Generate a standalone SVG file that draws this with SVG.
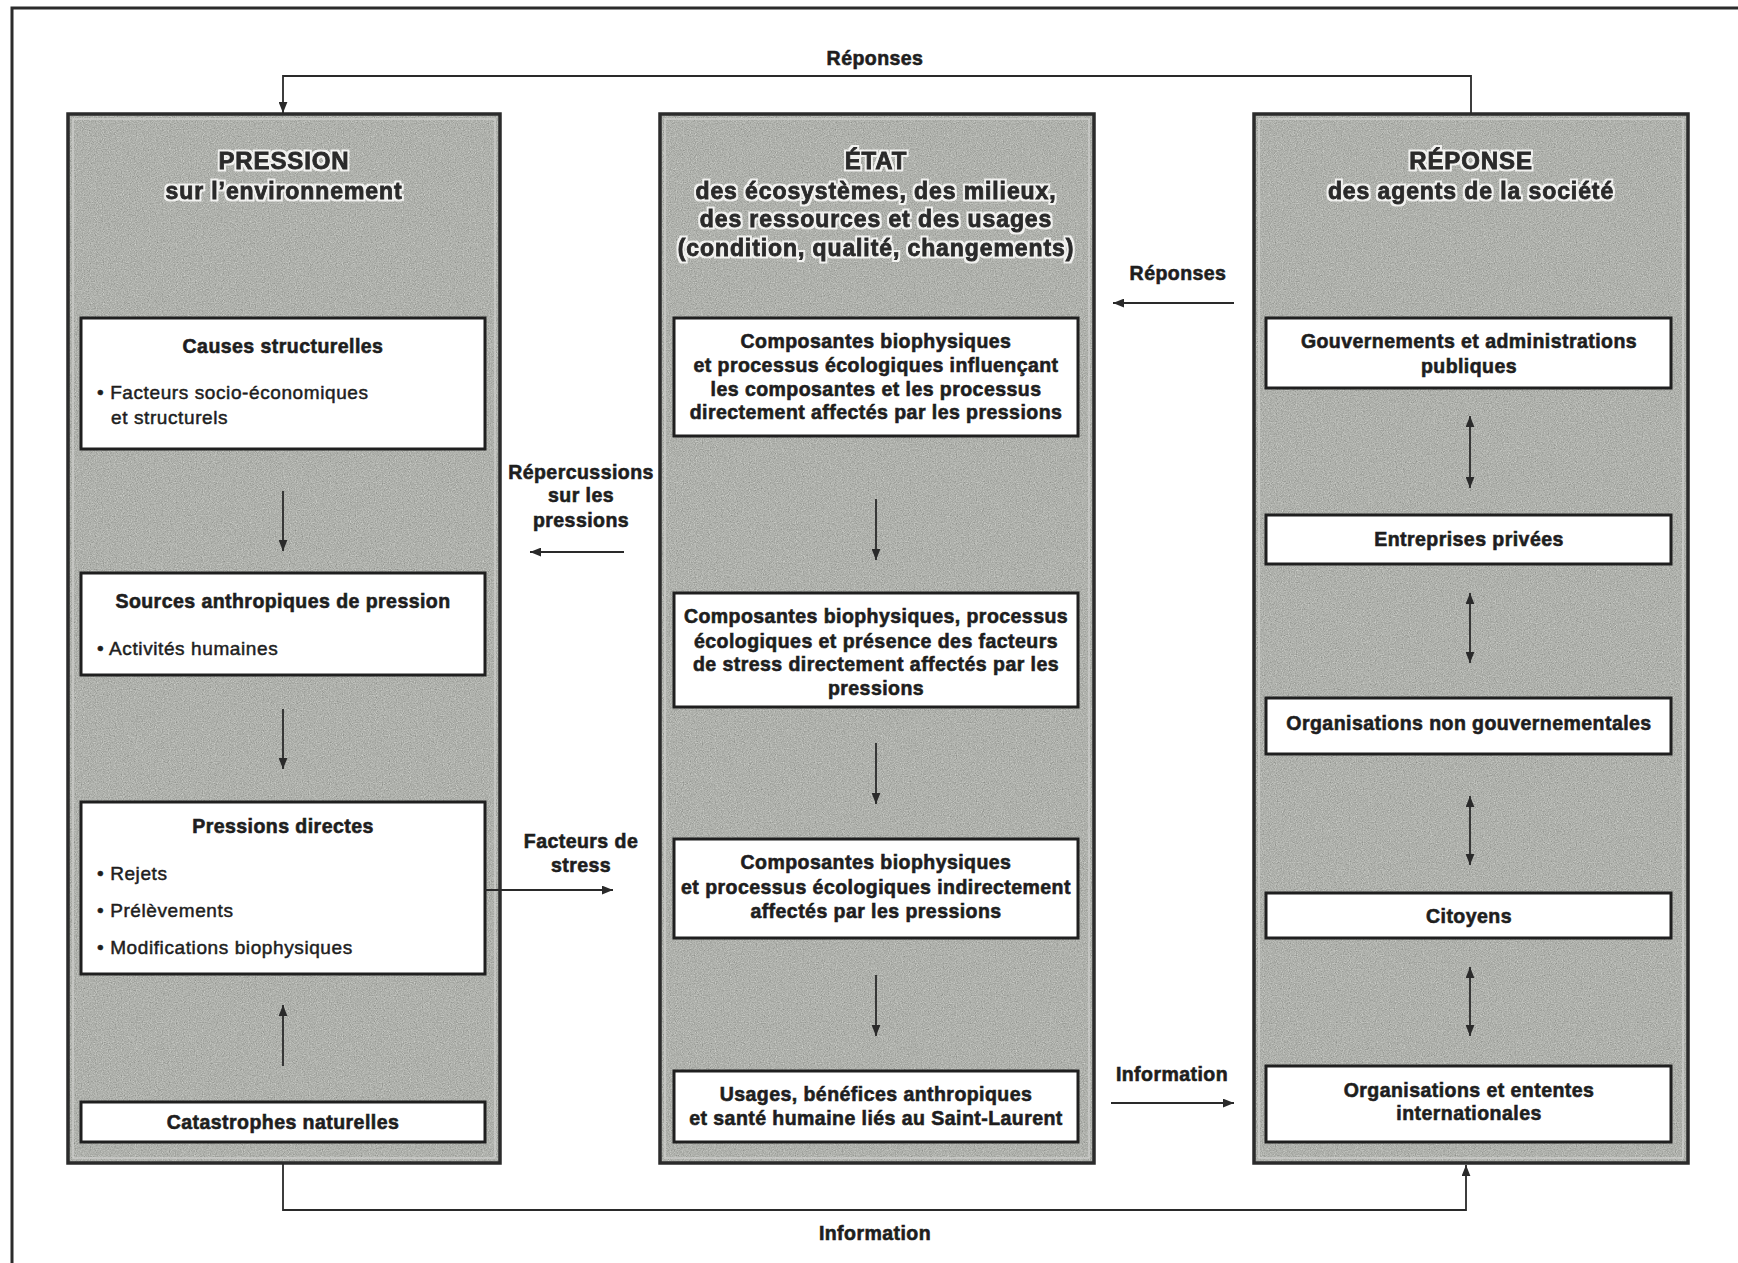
<svg xmlns="http://www.w3.org/2000/svg" width="1738" height="1263" viewBox="0 0 1738 1263">
<defs>
<style>
.col{fill:#a9aba6;}
.colb{fill:none;stroke:#2b2b2b;stroke-width:3.5;}
.coli{fill:none;stroke:#d2d3d0;stroke-width:1.2;}
.box{fill:#ffffff;stroke:#1f1f1f;stroke-width:3;}
.t{font-family:"Liberation Sans",Arial,sans-serif;font-weight:bold;font-size:19.5px;letter-spacing:0.45px;fill:#1e1e1e;stroke:#1e1e1e;stroke-width:0.6px;text-anchor:middle;}
.b{font-family:"Liberation Sans",Arial,sans-serif;font-weight:normal;font-size:19px;letter-spacing:0.6px;fill:#1e1e1e;stroke:#1e1e1e;stroke-width:0.5px;}
.h{font-family:"Liberation Sans",Arial,sans-serif;font-weight:bold;font-size:23px;letter-spacing:0.9px;fill:#2a2a2a;stroke:#2a2a2a;stroke-width:0.8px;text-anchor:middle;filter:url(#halo);}
.hb{font-size:24px;}
.ar{fill:none;stroke:#2a2a2a;stroke-width:1.8;marker-end:url(#ah);}
.dar{fill:none;stroke:#2a2a2a;stroke-width:1.8;marker-end:url(#ah);marker-start:url(#ahs);}
</style>
<marker id="ah" viewBox="0 0 10 8" refX="10" refY="4" markerWidth="11" markerHeight="9" markerUnits="userSpaceOnUse" orient="auto">
<path d="M0,0 L10,4 L0,8 Z" fill="#2a2a2a"/>
</marker>
<marker id="ahs" viewBox="0 0 10 8" refX="0" refY="4" markerWidth="11" markerHeight="9" markerUnits="userSpaceOnUse" orient="auto">
<path d="M10,0 L0,4 L10,8 Z" fill="#2a2a2a"/>
</marker>
<filter id="grain" x="0" y="0" width="100%" height="100%" color-interpolation-filters="sRGB">
<feTurbulence type="fractalNoise" baseFrequency="0.85" numOctaves="2" seed="7" result="n"/>
<feColorMatrix in="n" type="matrix" values="0.33 0.33 0.33 0 0  0.33 0.33 0.33 0 0  0.33 0.33 0.33 0 0  0 0 0 0 1" result="g"/>
<feComposite in="SourceGraphic" in2="g" operator="arithmetic" k1="0" k2="1" k3="0.55" k4="-0.25" result="m"/>
<feComposite in="m" in2="SourceGraphic" operator="in"/>
</filter>
<filter id="halo" x="-5%" y="-30%" width="110%" height="160%" color-interpolation-filters="sRGB">
<feMorphology in="SourceAlpha" operator="dilate" radius="1.6" result="d"/>
<feFlood flood-color="#f2f2f0" result="f"/>
<feComposite in="f" in2="d" operator="in" result="w"/>
<feMerge><feMergeNode in="w"/><feMergeNode in="SourceGraphic"/></feMerge>
</filter>
</defs>

<rect x="0" y="0" width="1738" height="1263" fill="#ffffff"/>
<!-- outer frame (extends beyond right/bottom edges) -->
<rect id="frame" x="12" y="8" width="1760" height="1300" fill="none" stroke="#2b2b2b" stroke-width="3"/>

<!-- Column PRESSION -->
<g id="col-pression">
<rect class="col" x="68" y="114" width="432" height="1049" filter="url(#grain)"/>
<rect class="coli" x="73" y="119" width="422" height="1039"/>
<rect class="colb" x="68" y="114" width="432" height="1049"/>
<text class="h hb" x="284" y="169">PRESSION</text>
<text class="h" x="284" y="199">sur l’environnement</text>
</g>

<!-- Column ÉTAT -->
<g id="col-etat">
<rect class="col" x="660" y="114" width="434" height="1049" filter="url(#grain)"/>
<rect class="coli" x="665" y="119" width="424" height="1039"/>
<rect class="colb" x="660" y="114" width="434" height="1049"/>
<text class="h hb" x="876" y="169">ÉTAT</text>
<text class="h" x="876" y="199">des écosystèmes, des milieux,</text>
<text class="h" x="876" y="227">des ressources et des usages</text>
<text class="h" x="876" y="256">(condition, qualité, changements)</text>
</g>

<!-- Column RÉPONSE -->
<g id="col-reponse">
<rect class="col" x="1254" y="114" width="434" height="1049" filter="url(#grain)"/>
<rect class="coli" x="1259" y="119" width="424" height="1039"/>
<rect class="colb" x="1254" y="114" width="434" height="1049"/>
<text class="h hb" x="1471" y="169">RÉPONSE</text>
<text class="h" x="1471" y="199">des agents de la société</text>
</g>

<!-- Left column nodes -->
<g id="causes">
<rect class="box" x="81" y="318" width="404" height="131"/>
<text class="t" x="283" y="353">Causes structurelles</text>
<text class="b" x="97" y="399">• Facteurs socio-économiques</text>
<text class="b" x="111" y="424">et structurels</text>
</g>
<g id="sources">
<rect class="box" x="81" y="573" width="404" height="102"/>
<text class="t" x="283" y="608">Sources anthropiques de pression</text>
<text class="b" x="97" y="655">• Activités humaines</text>
</g>
<g id="pressions-directes">
<rect class="box" x="81" y="802" width="404" height="172"/>
<text class="t" x="283" y="833">Pressions directes</text>
<text class="b" x="97" y="880">• Rejets</text>
<text class="b" x="97" y="917">• Prélèvements</text>
<text class="b" x="97" y="954">• Modifications biophysiques</text>
</g>
<g id="catastrophes">
<rect class="box" x="81" y="1102" width="404" height="40"/>
<text class="t" x="283" y="1129">Catastrophes naturelles</text>
</g>

<!-- Middle column nodes -->
<g id="etat-1">
<rect class="box" x="674" y="318" width="404" height="118"/>
<text class="t" x="876" y="348">Composantes biophysiques</text>
<text class="t" x="876" y="372">et processus écologiques influençant</text>
<text class="t" x="876" y="396">les composantes et les processus</text>
<text class="t" x="876" y="419">directement affectés par les pressions</text>
</g>
<g id="etat-2">
<rect class="box" x="674" y="593" width="404" height="114"/>
<text class="t" x="876" y="623">Composantes biophysiques, processus</text>
<text class="t" x="876" y="648">écologiques et présence des facteurs</text>
<text class="t" x="876" y="671">de stress directement affectés par les</text>
<text class="t" x="876" y="695">pressions</text>
</g>
<g id="etat-3">
<rect class="box" x="674" y="839" width="404" height="99"/>
<text class="t" x="876" y="869">Composantes biophysiques</text>
<text class="t" x="876" y="894">et processus écologiques indirectement</text>
<text class="t" x="876" y="918">affectés par les pressions</text>
</g>
<g id="etat-4">
<rect class="box" x="674" y="1071" width="404" height="71"/>
<text class="t" x="876" y="1101">Usages, bénéfices anthropiques</text>
<text class="t" x="876" y="1125">et santé humaine liés au Saint-Laurent</text>
</g>

<!-- Right column nodes -->
<g id="gouvernements">
<rect class="box" x="1266" y="318" width="405" height="70"/>
<text class="t" x="1469" y="348">Gouvernements et administrations</text>
<text class="t" x="1469" y="373">publiques</text>
</g>
<g id="entreprises">
<rect class="box" x="1266" y="515" width="405" height="49"/>
<text class="t" x="1469" y="546">Entreprises privées</text>
</g>
<g id="ong">
<rect class="box" x="1266" y="698" width="405" height="56"/>
<text class="t" x="1469" y="730">Organisations non gouvernementales</text>
</g>
<g id="citoyens">
<rect class="box" x="1266" y="893" width="405" height="45"/>
<text class="t" x="1469" y="923">Citoyens</text>
</g>
<g id="internationales">
<rect class="box" x="1266" y="1066" width="405" height="76"/>
<text class="t" x="1469" y="1097">Organisations et ententes</text>
<text class="t" x="1469" y="1120">internationales</text>
</g>

<!-- Connectors -->
<g id="connectors">
<path class="ar" d="M1471,114 V76 H283 V113"/>
<path class="ar" d="M283,1163 V1210 H1466 V1165"/>
<path class="ar" d="M283,491 V551"/>
<path class="ar" d="M283,709 V769"/>
<path class="ar" d="M283,1066 V1005"/>
<path class="ar" d="M876,499 V560"/>
<path class="ar" d="M876,743 V804"/>
<path class="ar" d="M876,975 V1036"/>
<path class="dar" d="M1470,416 V488"/>
<path class="dar" d="M1470,593 V663"/>
<path class="dar" d="M1470,796 V865"/>
<path class="dar" d="M1470,967 V1036"/>
<path class="ar" d="M624,552 H530"/>
<path class="ar" d="M485,890 H613"/>
<path class="ar" d="M1234,303 H1113"/>
<path class="ar" d="M1111,1103 H1234"/>
</g>

<!-- Connector labels -->
<g id="labels">
<text class="t" x="875" y="65">Réponses</text>
<text class="t" x="875" y="1240">Information</text>
<text class="t" x="581" y="479">Répercussions</text>
<text class="t" x="581" y="502">sur les</text>
<text class="t" x="581" y="527">pressions</text>
<text class="t" x="581" y="848">Facteurs de</text>
<text class="t" x="581" y="872">stress</text>
<text class="t" x="1178" y="280">Réponses</text>
<text class="t" x="1172" y="1081">Information</text>
</g>
</svg>
